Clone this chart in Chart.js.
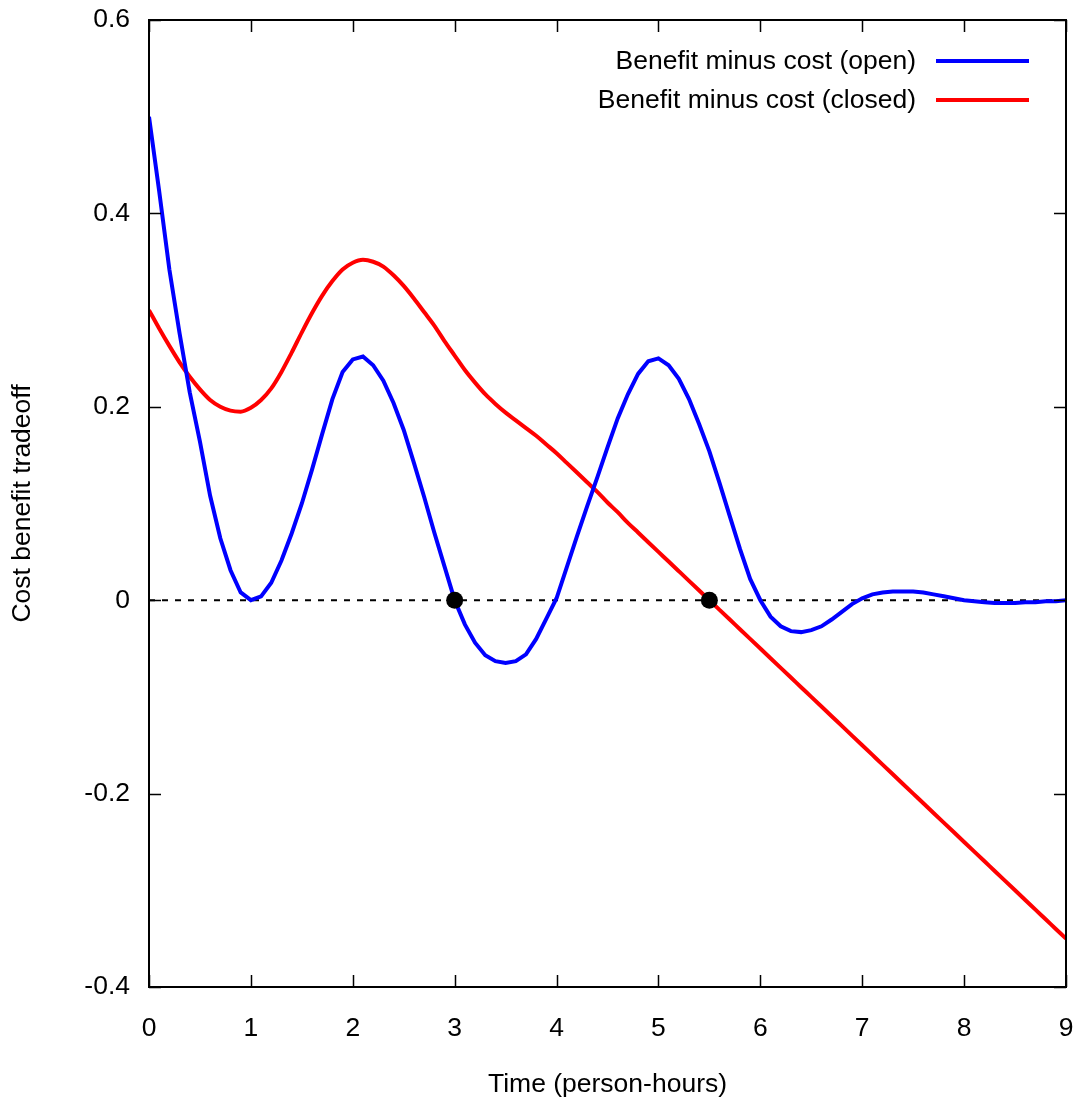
<!DOCTYPE html>
<html>
<head>
<meta charset="utf-8">
<script src="https://cdn.jsdelivr.net/npm/chart.js@4.4.1/dist/chart.umd.min.js"></script>
<style>
  body { margin: 0; background: #fff; }
  #wrap { width: 1081px; height: 1101px; }
</style>
</head>
<body>
<div id="wrap"><canvas id="chart" width="1081" height="1101"></canvas></div>
<script>
// Data
const timeHours = [
    0.0, 0.1, 0.2, 0.3, 0.4, 0.5, 0.6, 0.7, 0.8, 0.9,
    1.0, 1.1, 1.2, 1.3, 1.4, 1.5, 1.6, 1.7, 1.8, 1.9,
    2.0, 2.1, 2.2, 2.3, 2.4, 2.5, 2.6, 2.7, 2.8, 2.9,
    3.0, 3.1, 3.2, 3.3, 3.4, 3.5, 3.6, 3.7, 3.8, 3.9,
    4.0, 4.1, 4.2, 4.3, 4.4, 4.5, 4.6, 4.7, 4.8, 4.9,
    5.0, 5.1, 5.2, 5.3, 5.4, 5.5, 5.6, 5.7, 5.8, 5.9,
    6.0, 6.1, 6.2, 6.3, 6.4, 6.5, 6.6, 6.7, 6.8, 6.9,
    7.0, 7.1, 7.2, 7.3, 7.4, 7.5, 7.6, 7.7, 7.8, 7.9,
    8.0, 8.1, 8.2, 8.3, 8.4, 8.5, 8.6, 8.7, 8.8, 8.9,
    9.0
];
const openValues = [
    0.500, 0.423, 0.342, 0.276, 0.215, 0.164, 0.108, 0.064, 0.031, 0.008,
    0.000, 0.004, 0.018, 0.041, 0.069, 0.100, 0.135, 0.172, 0.208, 0.236,
    0.249, 0.252, 0.243, 0.227, 0.204, 0.176, 0.142, 0.107, 0.070, 0.035,
    0.000, -0.025, -0.044, -0.057, -0.063, -0.065, -0.063, -0.056, -0.040, -0.019,
    0.002, 0.034, 0.066, 0.097, 0.127, 0.158, 0.188, 0.213, 0.234, 0.247,
    0.250, 0.243, 0.229, 0.208, 0.182, 0.154, 0.121, 0.087, 0.053, 0.022,
    0.000, -0.017, -0.027, -0.032, -0.033, -0.031, -0.027, -0.020, -0.012, -0.004,
    0.002, 0.006, 0.008, 0.009, 0.009, 0.009, 0.008, 0.006, 0.004, 0.002,
    0.000, -0.001, -0.002, -0.003, -0.003, -0.003, -0.002, -0.002, -0.001, -0.001,
    0.000
];
const closedValues = [
    0.300, 0.281, 0.263, 0.246, 0.231, 0.218, 0.207, 0.200, 0.196, 0.195,
    0.199, 0.207, 0.219, 0.236, 0.256, 0.277, 0.297, 0.315, 0.330, 0.342,
    0.349, 0.352, 0.350, 0.345, 0.336, 0.325, 0.312, 0.298, 0.284, 0.268,
    0.253, 0.238, 0.225, 0.213, 0.203, 0.194, 0.186, 0.178, 0.170, 0.161,
    0.152, 0.142, 0.132, 0.122, 0.112, 0.101, 0.091, 0.080, 0.070, 0.060,
    0.050, 0.040, 0.030, 0.020, 0.010, 0.000, -0.010, -0.020, -0.030, -0.040,
    -0.050, -0.060, -0.070, -0.080, -0.090, -0.100, -0.110, -0.120, -0.130, -0.140,
    -0.150, -0.160, -0.170, -0.180, -0.190, -0.200, -0.210, -0.220, -0.230, -0.240,
    -0.250, -0.260, -0.270, -0.280, -0.290, -0.300, -0.310, -0.320, -0.330, -0.340,
    -0.350
];
const markerX = [3, 5.5];
const markerY = [0, 0];
const zeroLineX = [0, 9];
const zeroLineY = [0, 0];

const xTickLabels = ['0', '1', '2', '3', '4', '5', '6', '7', '8', '9'];
const yTickLabels = ['-0.4', '-0.2', '0', '0.2', '0.4', '0.6'];

const FONT = 'Liberation Sans, Arial, sans-serif';
const FONT_SIZE = 26.5;

function toPoints(xs, ys) {
    return xs.map((x, i) => ({ x: x, y: ys[i] }));
}

// gnuplot style frame with inward ticks on all four sides
const framePlugin = {
    id: 'frame',
    afterDatasetsDraw(chart) {
        const { ctx, chartArea: a, scales } = chart;
        const len = 12;
        ctx.save();
        ctx.strokeStyle = '#000';
        ctx.lineWidth = 1.5;
        ctx.beginPath();
        scales.x.ticks.forEach(t => {
            const px = Math.round(scales.x.getPixelForValue(t.value)) + 0.5;
            ctx.moveTo(px, a.bottom); ctx.lineTo(px, a.bottom - len);
            ctx.moveTo(px, a.top); ctx.lineTo(px, a.top + len);
        });
        scales.y.ticks.forEach(t => {
            const py = Math.round(scales.y.getPixelForValue(t.value)) + 0.5;
            ctx.moveTo(a.left, py); ctx.lineTo(a.left + len, py);
            ctx.moveTo(a.right, py); ctx.lineTo(a.right - len, py);
        });
        ctx.stroke();
        ctx.lineWidth = 2;
        ctx.strokeRect(a.left, a.top, a.right - a.left, a.bottom - a.top);
        ctx.restore();
    }
};

// legend: text right aligned, line sample on the right
const keyPlugin = {
    id: 'key',
    afterDraw(chart) {
        const { ctx } = chart;
        const entries = [chart.data.datasets[1], chart.data.datasets[2]];
        ctx.save();
        ctx.font = FONT_SIZE + 'px ' + FONT;
        ctx.textAlign = 'right';
        ctx.textBaseline = 'middle';
        entries.forEach((ds, i) => {
            const y = 61 + i * 39;
            ctx.fillStyle = '#000';
            ctx.fillText(ds.label, 916, y + 1);
            ctx.strokeStyle = ds.borderColor;
            ctx.lineWidth = 4;
            ctx.beginPath();
            ctx.moveTo(936, y);
            ctx.lineTo(1029, y);
            ctx.stroke();
        });
        ctx.restore();
    }
};

const ctx = document.getElementById('chart').getContext('2d');
new Chart(ctx, {
    type: 'line',
    data: {
        datasets: [
            {
                label: 'points',
                data: toPoints(markerX, markerY),
                showLine: false,
                pointRadius: 8.5,
                pointBackgroundColor: '#000',
                pointBorderWidth: 0
            },
            {
                label: 'Benefit minus cost (open)',
                data: toPoints(timeHours, openValues),
                borderColor: '#0000ff',
                borderWidth: 4,
                pointRadius: 0,
                tension: 0
            },
            {
                label: 'Benefit minus cost (closed)',
                data: toPoints(timeHours, closedValues),
                borderColor: '#ff0000',
                borderWidth: 4,
                pointRadius: 0,
                cubicInterpolationMode: 'monotone'
            },
            {
                label: 'zero',
                data: toPoints(zeroLineX, zeroLineY),
                borderColor: '#000',
                borderWidth: 2,
                borderDash: [6, 7],
                pointRadius: 0
            }
        ]
    },
    options: {
        responsive: false,
        animation: false,
        layout: { padding: { top: 20, right: 15, left: 0, bottom: 0 } },
        plugins: {
            legend: { display: false },
            tooltip: { enabled: false }
        },
        scales: {
            x: {
                type: 'linear',
                min: 0,
                max: 9,
                grid: { display: false, drawTicks: false },
                border: { display: false },
                ticks: {
                    stepSize: 1,
                    padding: 26,
                    color: '#000',
                    font: { family: FONT, size: FONT_SIZE },
                    maxRotation: 0,
                    callback: (v, i) => xTickLabels[i]
                },
                title: {
                    display: true,
                    text: 'Time (person-hours)',
                    color: '#000',
                    font: { family: FONT, size: FONT_SIZE },
                    padding: { top: 0, bottom: 0 }
                },
                afterFit: scale => {
                    scale.height = 114;
                    scale.paddingLeft = 0;
                    scale.paddingRight = 0;
                }
            },
            y: {
                type: 'linear',
                min: -0.4,
                max: 0.6,
                grid: { display: false, drawTicks: false },
                border: { display: false },
                ticks: {
                    stepSize: 0.2,
                    padding: 19,
                    color: '#000',
                    font: { family: FONT, size: FONT_SIZE },
                    callback: (v, i) => yTickLabels[i]
                },
                title: {
                    display: true,
                    text: 'Cost benefit tradeoff',
                    color: '#000',
                    font: { family: FONT, size: FONT_SIZE },
                    padding: { top: 7, bottom: 0 }
                },
                afterFit: scale => {
                    scale.width = 149;
                    scale.paddingTop = 0;
                    scale.paddingBottom = 0;
                }
            }
        }
    },
    plugins: [framePlugin, keyPlugin]
});
</script>
</body>
</html>
